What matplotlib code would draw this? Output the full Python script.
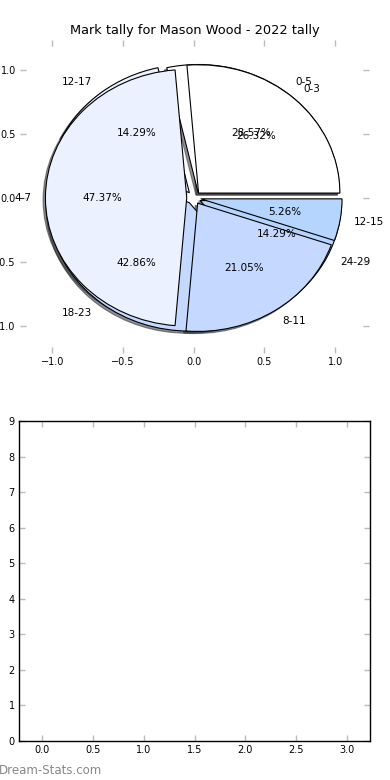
import matplotlib
matplotlib.use("Agg")
import matplotlib.pyplot as plt

# Data
title = "Mark tally for Mason Wood - 2022 tally"
labels_a = ["0-5", "12-17", "18-23", "24-29"]
values_a = [2, 1, 3, 1]
labels_b = ["0-3", "4-7", "8-11", "12-15"]
values_b = [5, 9, 4, 1]
explode_a = [0.05, 0.05, 0.05, 0.05]
explode_b = [0.05, 0.05, 0.05, 0.05]
colors = ["#FFFFFF", "#EBF1FE", "#C5D8FF", "#B5D5FF"]
bar_x_ticks = [0.0, 0.5, 1.0, 1.5, 2.0, 2.5, 3.0]
bar_y_ticks = list(range(10))

plt.rcParams['font.family'] = ['DejaVu Sans']

fig = plt.figure(figsize=(3.9, 7.8), dpi=100)

W, H = 390.0, 780.0
ax1 = fig.add_axes([20 / W, 1 - 353 / H, 349 / W, 313 / H])
ax2 = fig.add_axes([19 / W, 1 - 741 / H, 351 / W, 320 / H])

for lab_vals, labs, expl in ((values_a, labels_a, explode_a), (values_b, labels_b, explode_b)):
    wedges, texts, autotexts = ax1.pie(lab_vals, labels=labs, explode=expl, colors=colors,
                                       autopct='%.2f%%',
                                       shadow={'ox': -0.012, 'oy': -0.012, 'shade': 0.85},
                                       frame=True,
                                       wedgeprops=dict(edgecolor='black', linewidth=0.8),
                                       textprops=dict(fontsize=7.5))

ax1.set_aspect('auto')
ax1.set_xlim(-1.23, 1.24)
ax1.set_ylim(-1.21, 1.23)
ax1.set_xticks([-1.0, -0.5, 0.0, 0.5, 1.0])
ax1.set_yticks([-1.0, -0.5, 0.0, 0.5, 1.0])
ax1.set_yticklabels(["−1.0", "−0.5", "0.0", "0.5", "1.0"])
for sp in ax1.spines.values():
    sp.set_visible(False)
ax1.set_title(title, fontsize=9.3, pad=4)

ax2.set_xlim(-0.225, 3.225)
ax2.set_ylim(0, 9)
ax2.set_xticks(bar_x_ticks)
ax2.set_yticks(bar_y_ticks)
for sp in ax2.spines.values():
    sp.set_color('black')
    sp.set_linewidth(1.0)

for ax in (ax1, ax2):
    ax.tick_params(direction='in', length=4, width=1, color='#bbbbbb',
                   top=True, right=True, labelsize=7, pad=3)

fig.text(-0.002, 0.0125, "Dream-Stats.com", fontsize=8.5, color='#888888', ha='left', va='center')

fig.savefig("out.png", dpi=100)
